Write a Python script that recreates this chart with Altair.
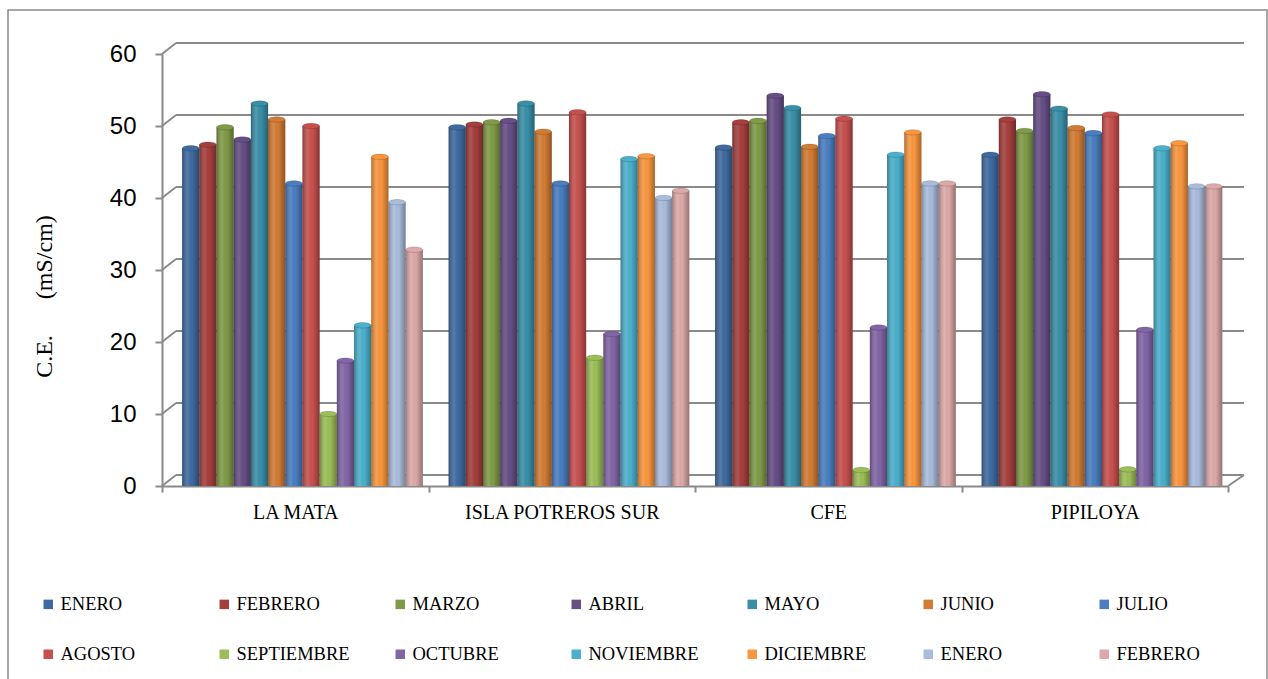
import altair as alt
import pandas as pd

sites = ["LA MATA", "ISLA POTREROS SUR", "CFE", "PIPILOYA"]
series_keys = ["ENERO_1", "FEBRERO_1", "MARZO", "ABRIL", "MAYO", "JUNIO", "JULIO",
               "AGOSTO", "SEPTIEMBRE", "OCTUBRE", "NOVIEMBRE", "DICIEMBRE", "ENERO_2", "FEBRERO_2"]
colors = ["#3F6A9F", "#A43F3D", "#809B48", "#664E86", "#3A8FA8", "#D27B34", "#4A7EC0",
          "#C6504E", "#9CBE58", "#8165A6", "#4BB0CC", "#F9963F", "#AABCDC", "#DCA9A8"]

la_mata = [46.5, 47.0, 49.4, 47.7, 52.7, 50.5, 41.6, 49.6, 9.6, 17.0, 21.9, 45.3, 39.0, 32.4]
isla_potreros_sur = [49.4, 49.8, 50.1, 50.3, 52.7, 48.8, 41.6, 51.5, 17.4, 20.7, 45.0, 45.4, 39.6, 40.6]
cfe = [46.6, 50.1, 50.3, 53.8, 52.1, 46.7, 48.2, 50.6, 1.8, 21.6, 45.6, 48.7, 41.6, 41.6]
pipiloya = [45.6, 50.5, 48.9, 54.0, 52.0, 49.3, 48.6, 51.2, 1.9, 21.3, 46.5, 47.2, 41.2, 41.2]

y_ticks = [0, 10, 20, 30, 40, 50, 60]

rows = []
for site, vals in zip(sites, [la_mata, isla_potreros_sur, cfe, pipiloya]):
    for k, v in zip(series_keys, vals):
        rows.append({"site": site, "serie": k, "value": v})
df = pd.DataFrame(rows)
grid_df = pd.DataFrame({"value": y_ticks})
zero_df = pd.DataFrame({"value": [0]})

GRAY = "#8a8a8a"
W, H = 1066, 432
DX, DY = 14, -11

yscale = alt.Scale(domain=[0, 60], nice=False, zero=True)
xscale = alt.Scale(domain=sites, paddingInner=0, paddingOuter=0)
xoff_scale = alt.Scale(domain=series_keys, paddingInner=0, paddingOuter=0.75, align=0.78)
cscale = alt.Scale(domain=series_keys, range=colors)

y_axis = alt.Axis(
    values=y_ticks, grid=False, domainColor=GRAY, domainWidth=2,
    tickColor=GRAY, tickWidth=2, tickSize=7,
    labelFont="Liberation Sans", labelFontSize=24, labelColor="black", labelPadding=19,
    title="C.E.\u00a0\u00a0\u00a0\u00a0\u00a0\u00a0(mS/cm)", titleFont="Liberation Serif",
    titleFontSize=24, titleFontWeight="normal", titleColor="black",
    titleAngle=270, titleX=-118, titleY=242, titleAlign="center", titleBaseline="middle")

x_axis = alt.Axis(
    title=None, labelAngle=0, labelFont="Liberation Serif", labelFontSize=20,
    labelColor="black", labelPadding=20, labelBaseline="middle", labelLimit=0,
    tickBand="extent", tickSize=6, tickColor=GRAY, tickWidth=2,
    domainColor=GRAY, domainWidth=2, grid=False)

legend = alt.Legend(
    title=None, orient="none", legendX=-123, legendY=541, direction="horizontal",
    columns=7, gridAlign="all", symbolType="square", symbolSize=90, symbolStrokeWidth=0,
    labelFont="Liberation Serif", labelFontSize=18.5, labelColor="black",
    labelExpr="split(datum.value, '_')[0]", columnPadding=41, rowPadding=31, labelOffset=3)

Y = alt.Y("value:Q", scale=yscale, stack=None, axis=y_axis)
X = alt.X("site:N", scale=xscale, sort=sites, axis=x_axis)
XO = alt.XOffset("serie:N", scale=xoff_scale, sort=series_keys)
C = alt.Color("serie:N", scale=cscale, sort=series_keys, legend=legend)

back_grid = alt.Chart(grid_df).mark_rule(color=GRAY, strokeWidth=2, yOffset=DY).encode(
    y=Y, x=alt.value(DX), x2=alt.value(W + DX + 2),
)

side_grid = alt.Chart(grid_df).mark_rule(color=GRAY, strokeWidth=2, y2Offset=DY).encode(
    y=Y, y2=alt.Y2("value:Q"), x=alt.value(0), x2=alt.value(DX),
)

floor_right = alt.Chart(zero_df).mark_rule(color=GRAY, strokeWidth=2, y2Offset=DY).encode(
    y=Y, y2=alt.Y2("value:Q"), x=alt.value(W), x2=alt.value(W + DX + 2),
)

frame = alt.Chart(zero_df).mark_rect(fillOpacity=0, stroke="#8c8c8c", strokeWidth=1.5).encode(
    x=alt.value(-154), x2=alt.value(1105), y=alt.value(-44), y2=alt.value(700),
)

bars = alt.Chart(df).mark_bar(yOffset=-3, y2Offset=-3).encode(x=X, xOffset=XO, y=Y, color=C)

shade = alt.Chart(df).mark_bar(
    yOffset=-3, y2Offset=-3,
    fill=alt.Gradient(gradient="linear", x1=0, x2=1, y1=0, y2=0, stops=[
        alt.GradientStop(color="rgba(0,0,0,0.30)", offset=0),
        alt.GradientStop(color="rgba(255,255,255,0.10)", offset=0.35),
        alt.GradientStop(color="rgba(0,0,0,0.0)", offset=0.6),
        alt.GradientStop(color="rgba(0,0,0,0.32)", offset=1),
    ])).encode(x=X, xOffset=XO, y=Y)

tops = alt.Chart(df).mark_point(
    shape="M-1,0A1,0.32,0,1,0,1,0A1,0.32,0,1,0,-1,0Z", filled=True, size=290,
    opacity=1, yOffset=-3, stroke="rgba(0,0,0,0.25)", strokeWidth=0.6,
).encode(x=X, xOffset=XO, y=Y, color=C)

chart = alt.layer(frame, back_grid, side_grid, floor_right, bars, shade, tops).properties(
    width=W, height=H,
    autosize=alt.AutoSizeParams(type="none"),
    padding={"left": 162, "top": 54, "right": 40, "bottom": 193},
    background="white",
).configure_view(stroke=None)

chart.save("out.html", embed_options={"renderer": "svg", "actions": False})
